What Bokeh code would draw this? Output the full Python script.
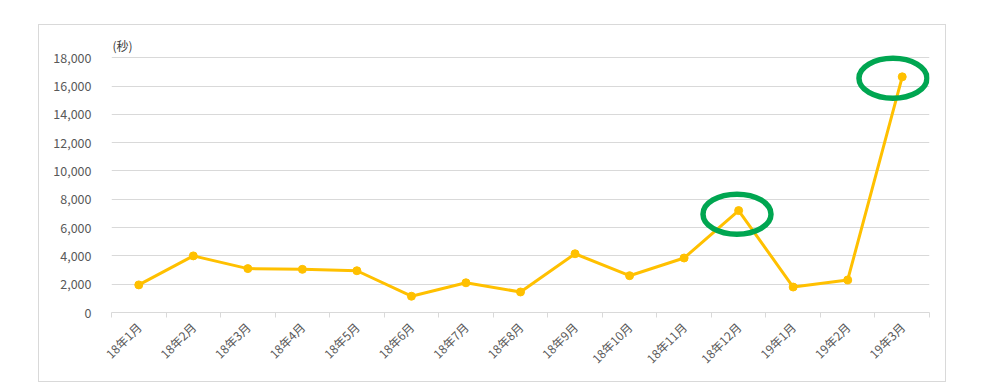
import math
from bokeh.plotting import figure
from bokeh.models import ColumnDataSource, FixedTicker, NumeralTickFormatter, Range1d, Label
from bokeh.embed import file_html
from bokeh.resources import INLINE

months = ["18年1月", "18年2月", "18年3月", "18年4月", "18年5月", "18年6月", "18年7月", "18年8月",
          "18年9月", "18年10月", "18年11月", "18年12月", "19年1月", "19年2月", "19年3月"]
seconds = [1950, 4000, 3100, 3050, 2950, 1150, 2100, 1450, 4150, 2600, 3850, 7200, 1800, 2300, 16650]
highlight = ["18年12月", "19年3月"]
y_ticks = [0, 2000, 4000, 6000, 8000, 10000, 12000, 14000, 16000, 18000]
unit_label = "(秒)"

# style constants (annotation placement, in category widths / value units)
hl_dx = [-0.03, -0.17]
hl_dy = [-250, -100]

FONT = "Noto Sans CJK JP"
n = len(months)
xs = [i + 0.5 for i in range(n)]
src = ColumnDataSource(dict(x=xs, y=seconds, m=months))
hl_idx = [months.index(h) for h in highlight]
hl = ColumnDataSource(dict(x=[xs[i] + d for i, d in zip(hl_idx, hl_dx)],
                           y=[seconds[i] + d for i, d in zip(hl_idx, hl_dy)]))

p = figure(width=908, height=358, output_backend="svg", toolbar_location=None,
           x_range=Range1d(0, n), y_range=Range1d(0, 19500),
           min_border_left=72, min_border_right=18, min_border_top=11, min_border_bottom=71)
p.margin = (24, 0, 0, 38)
p.styles = {"border": "1px solid #d9d9d9"}
p.outline_line_color = None
p.background_fill_color = "white"
p.border_fill_color = "white"

p.xgrid.grid_line_color = None
p.ygrid.grid_line_color = "#d9d9d9"
p.ygrid.grid_line_width = 1

p.yaxis.ticker = FixedTicker(ticks=y_ticks)
p.yaxis.formatter = NumeralTickFormatter(format="0,0")
p.yaxis.axis_line_color = None
p.yaxis.major_tick_line_color = None
p.yaxis.minor_tick_line_color = None
p.yaxis.major_label_standoff = 14
p.yaxis.major_label_text_font = FONT
p.yaxis.major_label_text_font_size = "12.5px"
p.yaxis.major_label_text_color = "#595959"

p.xaxis.ticker = FixedTicker(ticks=xs, minor_ticks=list(range(n + 1)))
p.xaxis.major_label_overrides = {x: m for x, m in zip(xs, months)}
p.xaxis.major_tick_line_color = None
p.xaxis.minor_tick_line_color = "#d9d9d9"
p.xaxis.minor_tick_out = 5
p.xaxis.minor_tick_in = 0
p.xaxis.axis_line_color = "#d9d9d9"
p.xaxis.major_label_orientation = math.pi / 4
p.xaxis.major_label_standoff = 6
p.xaxis.major_label_text_font = FONT
p.xaxis.major_label_text_font_size = "12px"
p.xaxis.major_label_text_color = "#595959"

p.line("x", "y", source=src, line_color="#FFC000", line_width=3)
p.scatter("x", "y", source=src, size=8, fill_color="#FFC000", line_color="#FFC000")

p.ellipse("x", "y", source=hl, width=68, height=40, width_units="screen", height_units="screen",
          fill_color=None, line_color="#00A651", line_width=5.5)

p.add_layout(Label(x=0, y=18000, x_offset=1, y_offset=4, text=unit_label,
                   text_font=FONT, text_font_size="12px", text_color="#404040",
                   text_baseline="bottom"))

open("out.html", "w").write(file_html(p, INLINE))
